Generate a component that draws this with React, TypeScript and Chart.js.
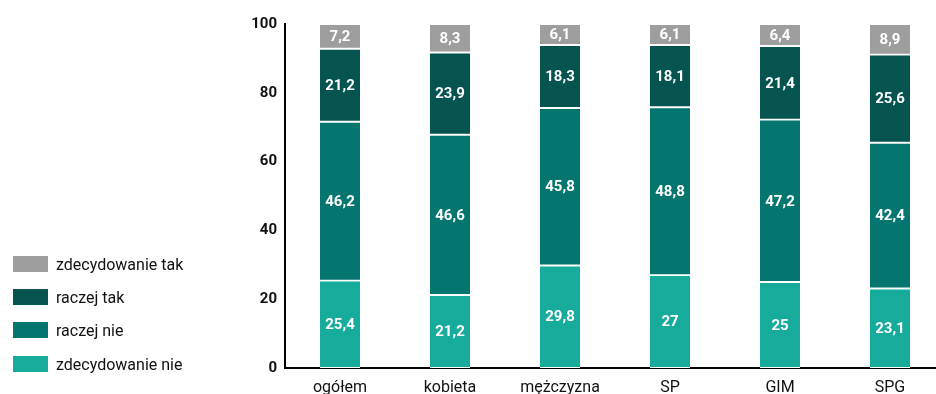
import React, { useEffect, useRef } from "react";
import { Chart, registerables } from "chart.js";

Chart.register(...registerables);

// Categories along the x axis
const categories = ["ogółem", "kobieta", "mężczyzna", "SP", "GIM", "SPG"];

// Answer shares (%) per category, stacked from the bottom up
const zdecydowanieNie = [25.4, 21.2, 29.8, 27, 25, 23.1];
const raczejNie = [46.2, 46.6, 45.8, 48.8, 47.2, 42.4];
const raczejTak = [21.2, 23.9, 18.3, 18.1, 21.4, 25.6];
const zdecydowanieTak = [7.2, 8.3, 6.1, 6.1, 6.4, 8.9];

const seriesLabels = ["zdecydowanie nie", "raczej nie", "raczej tak", "zdecydowanie tak"];
const seriesColors = ["#17ab9b", "#05756f", "#05544f", "#9e9e9e"];
const seriesValues = [zdecydowanieNie, raczejNie, raczejTak, zdecydowanieTak];

const yTicks = [0, 20, 40, 60, 80, 100];

const FONT = "Roboto, 'Open Sans', sans-serif";

const fmt = (v: number) => String(v).replace(".", ",");

// Writes each segment's value in its middle
const segmentLabels = {
  id: "segmentLabels",
  afterDatasetsDraw(chart: any) {
    const ctx = chart.ctx;
    ctx.save();
    ctx.fillStyle = "#ffffff";
    ctx.font = `bold 15px ${FONT}`;
    ctx.textAlign = "center";
    ctx.textBaseline = "middle";
    chart.data.datasets.forEach((ds: any, di: number) => {
      const meta = chart.getDatasetMeta(di);
      meta.data.forEach((el: any, i: number) => {
        const { x, y, base } = el.getProps(["x", "y", "base"], true);
        ctx.fillText(fmt(ds.data[i]), x, (y + base) / 2 + 1);
      });
    });
    ctx.restore();
  },
};

export default function App() {
  const canvasRef = useRef<HTMLCanvasElement | null>(null);

  useEffect(() => {
    if (!canvasRef.current) return;
    const chart = new Chart(canvasRef.current, {
      type: "bar",
      data: {
        labels: categories,
        datasets: seriesValues.map((vals, i) => ({
          label: seriesLabels[i],
          data: vals,
          backgroundColor: seriesColors[i],
          borderColor: "#ffffff",
          borderWidth: { top: 1.3, bottom: 1.3, left: 0, right: 0 },
          borderSkipped: false,
          barThickness: 40,
        })),
      },
      options: {
        responsive: false,
        animation: false,
        layout: { padding: { top: 24, right: 0, bottom: 0, left: 0 } },
        plugins: {
          legend: { display: false },
          tooltip: { enabled: false },
        },
        scales: {
          x: {
            stacked: true,
            grid: { display: false, drawTicks: false },
            border: { display: true, color: "#000000", width: 2 },
            ticks: {
              color: "#111111",
              font: { family: FONT, size: 16 },
              padding: 10,
            },
            afterFit: (s: any) => {
              s.height = 26;
            },
          },
          y: {
            stacked: true,
            min: 0,
            max: 100,
            grid: { display: false, drawTicks: false },
            border: { display: true, color: "#000000", width: 2 },
            afterBuildTicks: (s: any) => {
              s.ticks = yTicks.map((v) => ({ value: v }));
            },
            ticks: {
              color: "#111111",
              font: { family: FONT, size: 15, weight: "bold" },
              padding: 8,
            },
            afterFit: (s: any) => {
              s.width = 285;
            },
          },
        },
      },
      plugins: [segmentLabels],
    });
    return () => chart.destroy();
  }, []);

  // Legend, listed top-down from "zdecydowanie tak"
  const legendOrder = [3, 2, 1, 0];
  const legendTops = [256, 289, 322, 356];

  return (
    <div
      style={{
        position: "absolute",
        left: 0,
        top: 0,
        width: 936,
        height: 394,
        overflow: "hidden",
        background: "#ffffff",
      }}
    >
      <canvas ref={canvasRef} width={945} height={394} style={{ width: 945, height: 394, display: "block" }} />
      {legendOrder.map((si, k) => (
        <div
          key={si}
          style={{
            position: "absolute",
            left: 13,
            top: legendTops[k],
            height: 16,
            display: "flex",
            alignItems: "center",
            fontFamily: FONT,
            fontSize: 16,
            color: "#111111",
            whiteSpace: "nowrap",
          }}
        >
          <span style={{ display: "inline-block", width: 35, height: 16, background: seriesColors[si], marginRight: 8 }} />
          <span>{seriesLabels[si]}</span>
        </div>
      ))}
    </div>
  );
}
